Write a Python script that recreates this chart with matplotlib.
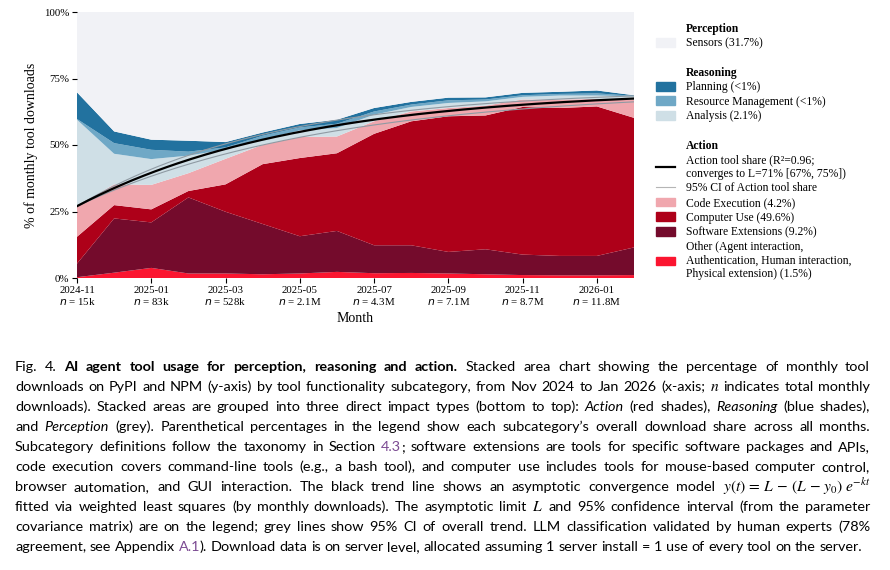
import re
import numpy as np
import matplotlib
matplotlib.use("Agg")
import matplotlib.pyplot as plt
from matplotlib.patches import Patch
from matplotlib.lines import Line2D

# monthly shares (%) per subcategory, Nov 2024 .. Feb 2026
months = ["2024-11", "2024-12", "2025-01", "2025-02", "2025-03", "2025-04", "2025-05", "2025-06",
          "2025-07", "2025-08", "2025-09", "2025-10", "2025-11", "2025-12", "2026-01", "2026-02"]
other = [0.3, 2.0, 3.8, 1.7, 1.7, 1.4, 1.7, 2.3, 1.8, 1.9, 1.7, 1.4, 1.1, 1.0, 1.0, 1.1]
software_ext = [5.1, 20.4, 17.1, 28.6, 23.2, 18.9, 14.0, 15.4, 10.5, 10.4, 8.1, 9.4, 7.7, 7.3, 7.3, 10.4]
computer_use = [10.1, 5.0, 4.9, 2.4, 10.3, 22.5, 29.4, 29.2, 41.9, 46.6, 51.0, 50.3, 55.5, 55.6, 56.2, 48.7]
code_exec = [11.5, 7.8, 9.2, 6.7, 9.6, 7.3, 7.9, 6.3, 4.7, 3.7, 3.1, 3.7, 2.8, 3.2, 2.8, 6.9]
analysis = [32.5, 11.5, 9.7, 6.6, 3.5, 1.9, 2.5, 3.2, 2.5, 1.7, 1.9, 1.6, 1.0, 1.5, 1.3, 1.2]
resource_mgmt = [0.3, 4.0, 3.5, 1.5, 0.8, 1.5, 1.1, 1.6, 1.2, 0.9, 1.0, 0.7, 0.6, 0.6, 0.8, 0.2]
planning = [10.0, 4.4, 3.8, 4.1, 2.0, 1.2, 1.3, 1.5, 1.3, 1.0, 1.0, 0.8, 0.9, 0.8, 1.1, 0.2]

tick_months = ["2024-11", "2025-01", "2025-03", "2025-05", "2025-07", "2025-09", "2025-11", "2026-01"]
tick_n = ["15k", "83k", "528k", "2.1M", "4.3M", "7.1M", "8.7M", "11.8M"]

# fitted model y(t) = L - (L - y0) e^{-kt}, plus CI
L_fit, y0_fit, k_fit = 71.0, 27.0, 0.168
k_lo, k_hi = 0.148, 0.19

c_other = "#fb1530"
c_se = "#740b2c"
c_cu = "#ae0019"
c_ce = "#f0a7ae"
c_an = "#cfdfe6"
c_rm = "#6fa8c6"
c_pl = "#22729f"
c_sens = "#f1f2f6"

serif = "Liberation Serif"

x = np.arange(len(months))
layers = np.array([other, software_ext, computer_use, code_exec, analysis, resource_mgmt, planning])
sensors = 100 - layers.sum(axis=0)

fig = plt.figure(figsize=(8.9, 5.7), dpi=100)
ax = fig.add_axes([77 / 890, 1 - 278 / 570, (634 - 77) / 890, 266 / 570])

ax.stackplot(x, other, software_ext, computer_use, code_exec, analysis, resource_mgmt, planning, sensors,
             colors=[c_other, c_se, c_cu, c_ce, c_an, c_rm, c_pl, c_sens], linewidth=0)

t = np.linspace(0, x[-1], 200)
ax.plot(t, L_fit - (L_fit - y0_fit) * np.exp(-k_hi * t), color="#8f9aa3", lw=0.8)
ax.plot(t, L_fit - (L_fit - y0_fit) * np.exp(-k_lo * t), color="#8f9aa3", lw=0.8)
ax.plot(t, L_fit - (L_fit - y0_fit) * np.exp(-k_fit * t), color="black", lw=1.6)

ax.set_xlim(0, x[-1])
ax.set_ylim(0, 100)
for s in ax.spines.values():
    s.set_visible(False)
ax.set_yticks([0, 25, 50, 75, 100])
ax.set_yticklabels([f"{v}%" for v in [0, 25, 50, 75, 100]], fontfamily=serif, fontsize=7.8)
ax.set_xticks([months.index(m) for m in tick_months])
ax.set_xticklabels([f"{m}\n$n$ = {n}" for m, n in zip(tick_months, tick_n)], fontfamily=serif,
                   fontsize=7.8, linespacing=1.1)
ax.tick_params(length=3.5, width=0.8, pad=2)
ax.set_xlabel("Month", fontfamily=serif, fontsize=10, labelpad=4)
ax.set_ylabel("% of monthly tool downloads", fontfamily=serif, fontsize=10, labelpad=4)

# legend with group headers
blank = Patch(facecolor="none", edgecolor="none")
handles = [blank, Patch(color=c_sens), blank,
           blank, Patch(color=c_pl), Patch(color=c_rm), Patch(color=c_an), blank,
           blank, Line2D([], [], color="black", lw=1.6), Line2D([], [], color="#b5b5b5", lw=0.8),
           Patch(color=c_ce), Patch(color=c_cu), Patch(color=c_se), Patch(color=c_other)]
labels = ["Perception", "Sensors (31.7%)", "",
          "Reasoning", "Planning (<1%)", "Resource Management (<1%)", "Analysis (2.1%)", "",
          "Action", "Action tool share (R²=0.96;\nconverges to L=71% [67%, 75%])",
          "95% CI of Action tool share", "Code Execution (4.2%)", "Computer Use (49.6%)",
          "Software Extensions (9.2%)",
          "Other (Agent interaction,\nAuthentication, Human interaction,\nPhysical extension) (1.5%)"]
leg = fig.legend(handles, labels, loc="upper left", bbox_to_anchor=(656 / 890, 1 - 23 / 570),
                 frameon=False, prop={"family": serif, "size": 8.4}, handlelength=1.65,
                 handleheight=0.8, handletextpad=0.9, labelspacing=0.22, borderpad=0, borderaxespad=0)
for txt in leg.get_texts():
    if txt.get_text() in ("Perception", "Reasoning", "Action"):
        txt.set_fontweight("bold")

# caption (justified)
caption = [
    "Fig. 4.  **AI agent tool usage for perception, reasoning and action.** Stacked area chart showing the percentage of monthly tool",
    "downloads on PyPI and NPM (y-axis) by tool functionality subcategory, from Nov 2024 to Jan 2026 (x-axis; $n$ indicates total monthly",
    "downloads). Stacked areas are grouped into three direct impact types (bottom to top): *Action* (red shades), *Reasoning* (blue shades),",
    "and *Perception* (grey). Parenthetical percentages in the legend show each subcategory\u2019s overall download share across all months.",
    "Subcategory definitions follow the taxonomy in Section [4.3]; software extensions are tools for specific software packages and APIs,",
    "code execution covers command-line tools (e.g., a bash tool), and computer use includes tools for mouse-based computer control,",
    "browser automation, and GUI interaction. The black trend line shows an asymptotic convergence model $y(t)\\,=\\,L\\,-\\,(L\\,-\\,y_0)\\;e^{-kt}$",
    "fitted via weighted least squares (by monthly downloads). The asymptotic limit $L$ and 95% confidence interval (from the parameter",
    "covariance matrix) are on the legend; grey lines show 95% CI of overall trend. LLM classification validated by human experts (78%",
    "agreement, see Appendix [A.1]). Download data is on server level, allocated assuming 1 server install = 1 use of every tool on the server.",
]
cap_font = "Lato"
cap_left, cap_right = 15, 870
pattern = re.compile(r"(\*\*.+?\*\*|\*.+?\*|\$.+?\$|\[.+?\])")


def split_words(line):
    runs = []
    for piece in pattern.split(line):
        if not piece:
            continue
        if piece.startswith("**"):
            runs.append((piece[2:-2], "bold"))
        elif piece.startswith("*"):
            runs.append((piece[1:-1], "italic"))
        elif piece.startswith("$"):
            runs.append((piece, "math"))
        elif piece.startswith("["):
            runs.append((piece[1:-1], "link"))
        else:
            runs.append((piece, "normal"))
    words = [[]]
    for text, st in runs:
        if st == "math":
            words[-1].append((text, st))
            continue
        parts = text.split(" ")
        for i, p in enumerate(parts):
            if i > 0:
                words.append([])
            if p:
                words[-1].append((p, st))
    return [w for w in words if w]


def make_words(words, y, size):
    placed = []
    for w in words:
        objs, widths = [], []
        for text, st in w:
            kw = dict(family=cap_font, size=size, va="baseline", ha="left")
            if st == "bold":
                kw["weight"] = "bold"
            elif st == "italic":
                kw["style"] = "italic"
            elif st == "link":
                kw["color"] = "#7b4a92"
            elif st == "math":
                kw["math_fontfamily"] = "stix"
                kw["size"] = size * 1.08
            o = fig.text(0, y, text, **kw)
            objs.append(o)
            widths.append(o.get_window_extent(renderer).width)
        placed.append((objs, widths))
    return placed


fig.canvas.draw()
renderer = fig.canvas.get_renderer()


def space_width(size):
    probe = fig.text(0, 0, "a a", family=cap_font, size=size)
    w2 = probe.get_window_extent(renderer).width
    probe.set_text("aa")
    w1 = probe.get_window_extent(renderer).width
    probe.remove()
    return w2 - w1


# find a font size where the widest line just fits
ref_size = 10.0
sp = space_width(ref_size)
widest = 0
for line in caption:
    pl = make_words(split_words(line), 0, ref_size)
    wsum = sum(sum(ws) for _, ws in pl) + sp * (len(pl) - 1)
    widest = max(widest, wsum)
    for objs, _ in pl:
        for o in objs:
            o.remove()
cap_size = ref_size * (cap_right - cap_left) / widest * 0.995
space_w = space_width(cap_size)

for i, line in enumerate(caption):
    base_y = 1 - (371 + 20 * i) / 570
    placed = make_words(split_words(line), base_y, cap_size)
    total = sum(sum(ws) for _, ws in placed)
    if i < len(caption) - 1 and len(placed) > 1:
        gap = (cap_right - cap_left - total) / (len(placed) - 1)
    else:
        gap = space_w
    xpos = cap_left
    for objs, ws in placed:
        for o, wdt in zip(objs, ws):
            o.set_x(xpos / 890)
            xpos += wdt
        xpos += gap

fig.savefig("out.png", dpi=100)
